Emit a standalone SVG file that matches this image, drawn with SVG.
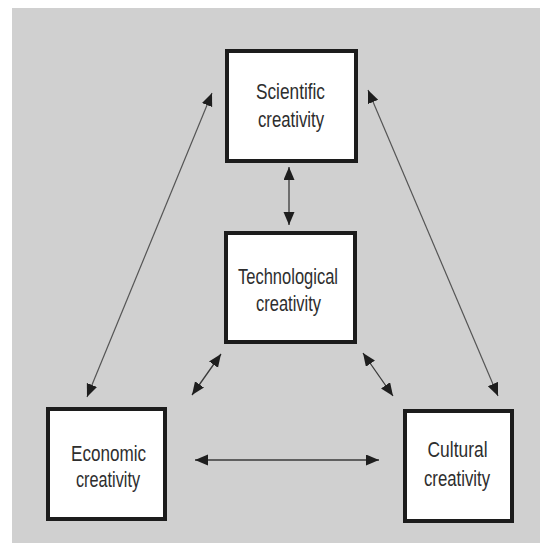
<svg xmlns="http://www.w3.org/2000/svg" width="540" height="543" viewBox="0 0 540 543">
  <defs>
    <marker id="head" markerUnits="userSpaceOnUse" markerWidth="14" markerHeight="12" refX="13" refY="5.5" orient="auto-start-reverse" viewBox="0 0 14 12">
      <path d="M0,0 L13,5.5 L0,11 Z" fill="#1e1e1e"/>
    </marker>
  </defs>
  <style>
    .box { fill: #ffffff; stroke: #1c1c1c; stroke-width: 4; }
    .lbl { font-family: "Liberation Sans", Arial, sans-serif; font-size: 22px; fill: #2e2e2e; text-anchor: middle; }
    .link { stroke: #3a3a3a; stroke-width: 1.3; fill: none; marker-start: url(#head); marker-end: url(#head); }
    .long { stroke: #555555; stroke-width: 1.2; }
  </style>

  <!-- page background -->
  <rect x="12" y="8" width="528" height="535" fill="#d0d0d0"/>

  <g id="connectors">
    <line class="link long" x1="87" y1="397" x2="212" y2="93"/>
    <line class="link long" x1="498" y1="396" x2="368" y2="90"/>
    <line class="link" x1="289" y1="167" x2="289" y2="225"/>
    <line class="link" x1="192" y1="395" x2="221" y2="354"/>
    <line class="link" x1="363" y1="353" x2="393" y2="396"/>
    <line class="link" x1="195" y1="460" x2="379" y2="460"/>
  </g>

  <g id="scientific">
    <rect class="box" x="227" y="51" width="129" height="110"/>
    <text class="lbl" x="290.5" y="99" textLength="69" lengthAdjust="spacingAndGlyphs">Scientific</text>
    <text class="lbl" x="291" y="127" textLength="66" lengthAdjust="spacingAndGlyphs">creativity</text>
  </g>

  <g id="technological">
    <rect class="box" x="226" y="233" width="129" height="109"/>
    <text class="lbl" x="288" y="284" textLength="100" lengthAdjust="spacingAndGlyphs">Technological</text>
    <text class="lbl" x="288.5" y="311" textLength="65" lengthAdjust="spacingAndGlyphs">creativity</text>
  </g>

  <g id="economic">
    <rect class="box" x="48" y="409" width="117" height="110"/>
    <text class="lbl" x="108.5" y="461" textLength="75" lengthAdjust="spacingAndGlyphs">Economic</text>
    <text class="lbl" x="108" y="487" textLength="64" lengthAdjust="spacingAndGlyphs">creativity</text>
  </g>

  <g id="cultural">
    <rect class="box" x="405" y="411" width="107" height="110"/>
    <text class="lbl" x="457.5" y="457" textLength="60" lengthAdjust="spacingAndGlyphs">Cultural</text>
    <text class="lbl" x="457" y="486" textLength="66" lengthAdjust="spacingAndGlyphs">creativity</text>
  </g>
</svg>
